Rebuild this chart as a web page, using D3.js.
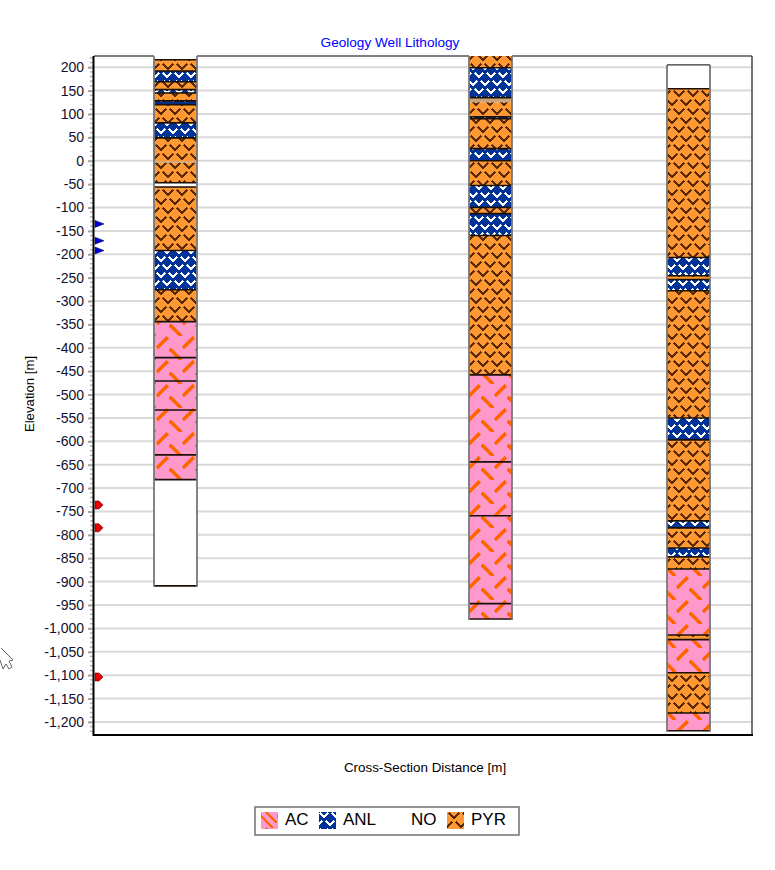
<!DOCTYPE html>
<html>
<head>
<meta charset="utf-8">
<script src="https://cdn.jsdelivr.net/npm/d3@7"></script>
<style>
  html, body { margin: 0; padding: 0; background: #fff; }
  text { font-family: "Liberation Sans", Arial, sans-serif; }
</style>
</head>
<body>
<div id="chart"></div>
<script>
// Data
const rockTypes = ['AC', 'ANL', 'NO', 'PYR']
const wellDistances = [815, 3965, 5945]

// elevation of each interval boundary, top to bottom, and the rock between them
const well1Tops = [224, 216, 192, 169, 152, 145, 128, 120, 81, 49, -2, -4, -47, -56, -192, -276, -344, -421, -471, -533, -629, -682, -909]
const well1Rocks = ['NO', 'PYR', 'ANL', 'PYR', 'ANL', 'PYR', 'ANL', 'PYR', 'ANL', 'PYR', 'GREY', 'PYR', 'NO', 'PYR', 'ANL', 'PYR', 'AC', 'AC', 'AC', 'AC', 'AC', 'NO']
const well2Tops = [224, 199, 135, 125, 94, 90, 26, 0, -53, -100, -113, -160, -458, -644, -759, -947, -980]
const well2Rocks = ['PYR', 'ANL', 'TAN', 'PYR', 'ANL', 'PYR', 'ANL', 'PYR', 'ANL', 'PYR', 'ANL', 'PYR', 'AC', 'AC', 'AC', 'AC']
const well3Tops = [205, 154, -207, -246, -254, -278, -550, -597, -770, -785, -828, -847, -873, -1014, -1024, -1095, -1181, -1219]
const well3Rocks = ['NO', 'PYR', 'ANL', 'PYR', 'ANL', 'PYR', 'ANL', 'PYR', 'ANL', 'PYR', 'ANL', 'PYR', 'AC', 'PYR', 'AC', 'PYR', 'AC']

const blueMarkers = [-135, -171, -192]
const redMarkers = [-736, -785, -1104]

// Dimensions
const dimensions = { width: 775, height: 870, left: 94, right: 752, top: 56, bottom: 735 }
const colWidth = 43

const svg = d3.select('#chart').append('svg')
  .attr('width', dimensions.width)
  .attr('height', dimensions.height)
  .style('display', 'block')

// Scales
const xScale = d3.scaleLinear().domain([0, 6580]).range([dimensions.left, dimensions.right])
const yScale = d3.scaleLinear().domain([224, -1228]).range([dimensions.top, dimensions.bottom])

// Patterns
const defs = svg.append('defs')

function addPattern(id, w, h, bg, color, strokeW, paths) {
  const p = defs.append('pattern')
    .attr('id', id)
    .attr('patternUnits', 'userSpaceOnUse')
    .attr('width', w)
    .attr('height', h)
  p.append('rect').attr('width', w).attr('height', h).attr('fill', bg)
  p.selectAll('path').data(paths).join('path')
    .attr('d', d => d)
    .attr('fill', 'none')
    .attr('stroke', color)
    .attr('stroke-width', strokeW)
    .attr('shape-rendering', 'crispEdges')
}

addPattern('pat-PYR', 14, 18, '#FF9933', '#5A2A05', 1.6, [
  'M2,1 L7,6 L12,1', 'M9,10 L14,15 L19,10', 'M-5,10 L0,15 L5,10'
])
addPattern('pat-ANL', 12, 16, '#003399', '#fff', 2, [
  'M1,1 L5,5 L9,1', 'M7,9 L11,13 L15,9', 'M-5,9 L-1,13 L3,9'
])
addPattern('pat-AC', 26, 24, '#FF99CC', '#FF6600', 3, [
  'M1,12 L12,1', 'M14,13 L25,24'
])
addPattern('pat-leg-AC', 16, 16, '#FF99CC', '#FF6600', 2.2, ['M0,4 L12,16', 'M5,0 L16,11'])

const rockFill = rock => ({
  AC: 'url(#pat-AC)', ANL: 'url(#pat-ANL)', PYR: 'url(#pat-PYR)',
  NO: '#fff', TAN: '#C8A67E', GREY: '#9a9a9a'
})[rock]

// Grid
const yTicks = d3.range(-1200, 201, 50)
svg.append('g').selectAll('line').data(yTicks).join('line')
  .attr('x1', dimensions.left)
  .attr('x2', dimensions.right)
  .attr('y1', d => yScale(d))
  .attr('y2', d => yScale(d))
  .attr('stroke', '#D9D9D9')
  .attr('stroke-width', 2)

// Wells
const wells = [
  { x: wellDistances[0], tops: well1Tops, rocks: well1Rocks },
  { x: wellDistances[1], tops: well2Tops, rocks: well2Rocks },
  { x: wellDistances[2], tops: well3Tops, rocks: well3Rocks }
]

wells.forEach(well => {
  const cx = xScale(well.x)
  const g = svg.append('g')
  g.selectAll('rect').data(well.rocks).join('rect')
    .attr('x', cx - colWidth / 2)
    .attr('width', colWidth)
    .attr('y', (d, i) => yScale(well.tops[i]))
    .attr('height', (d, i) => yScale(well.tops[i + 1]) - yScale(well.tops[i]))
    .attr('fill', d => rockFill(d))
  // interval boundaries, the thin grey and tan bands have no dark line under them
  const bounds = well.tops.slice(1).filter((d, i) =>
    !['GREY', 'TAN'].includes(well.rocks[i]) && well.rocks[i + 1] !== 'GREY')
  g.selectAll('line.bound').data(bounds).join('line')
    .attr('class', 'bound')
    .attr('x1', cx - colWidth / 2)
    .attr('x2', cx + colWidth / 2)
    .attr('y1', d => yScale(d))
    .attr('y2', d => yScale(d))
    .attr('stroke', '#1a1008')
    .attr('stroke-width', 1.6)
  // column sides
  const y0 = yScale(well.tops[0])
  const y1 = yScale(well.tops[well.tops.length - 1])
  g.selectAll('line.side').data([cx - colWidth / 2, cx + colWidth / 2]).join('line')
    .attr('class', 'side')
    .attr('x1', d => d)
    .attr('x2', d => d)
    .attr('y1', y0)
    .attr('y2', y1 + 1)
    .attr('stroke', '#777')
    .attr('stroke-width', 1.8)
  if (well.tops[0] < 224) {
    g.append('line')
      .attr('x1', cx - colWidth / 2).attr('x2', cx + colWidth / 2)
      .attr('y1', y0).attr('y2', y0)
      .attr('stroke', '#333').attr('stroke-width', 1.2)
  }
})

// Frame: top and right are grey/dark, left and bottom heavy black
const frameTop = wells.map(w => xScale(w.x))
svg.append('g').selectAll('line').data([
  [dimensions.left, frameTop[0] - colWidth / 2],
  [frameTop[0] + colWidth / 2, frameTop[1] - colWidth / 2],
  [frameTop[1] + colWidth / 2, dimensions.right]
]).join('line')
  .attr('x1', d => d[0]).attr('x2', d => d[1])
  .attr('y1', dimensions.top).attr('y2', dimensions.top)
  .attr('stroke', '#808080').attr('stroke-width', 2)

svg.append('line')
  .attr('x1', dimensions.right).attr('x2', dimensions.right)
  .attr('y1', dimensions.top).attr('y2', dimensions.bottom)
  .attr('stroke', '#444').attr('stroke-width', 1.5)
svg.append('line')
  .attr('x1', dimensions.left - 1).attr('x2', dimensions.right + 1)
  .attr('y1', dimensions.bottom).attr('y2', dimensions.bottom)
  .attr('stroke', '#000').attr('stroke-width', 2)

// Y axis
const fmt = d3.formatLocale({ decimal: '.', thousands: ',', grouping: [3], currency: ['', ''], minus: '-' }).format(',')
const yAxis = svg.append('g')
  .attr('transform', `translate(${dimensions.left - 1},0)`)
  .call(d3.axisLeft(yScale).tickValues(yTicks).tickSize(5).tickPadding(4).tickFormat(fmt))
yAxis.select('.domain').remove()
yAxis.selectAll('.tick line').attr('stroke', '#A0A0A0').attr('stroke-width', 2)
yAxis.selectAll('.tick text').attr('font-size', 14).attr('fill', '#101030')
  .style('font-family', '"Liberation Sans", Arial, sans-serif')

svg.append('g').selectAll('line')
  .data(d3.range(-1220, 221, 10))
  .join('line')
  .attr('x1', dimensions.left - 4).attr('x2', dimensions.left - 1)
  .attr('y1', d => yScale(d)).attr('y2', d => yScale(d))
  .attr('stroke', '#B5B5B5').attr('stroke-width', 1.5)

svg.append('line')
  .attr('x1', dimensions.left - 0.5).attr('x2', dimensions.left - 0.5)
  .attr('y1', dimensions.top).attr('y2', dimensions.bottom + 1)
  .attr('stroke', '#000').attr('stroke-width', 2)

// Markers on the left axis
svg.append('g').selectAll('path').data(blueMarkers).join('path')
  .attr('transform', d => `translate(${dimensions.left},${yScale(d)})`)
  .attr('d', 'M1,-3.5 L10,0 L1,3.5 Z')
  .attr('fill', '#0000D0')
  .attr('stroke', '#101060')
  .attr('stroke-width', 0.6)
svg.append('g').selectAll('path').data(redMarkers).join('path')
  .attr('transform', d => `translate(${dimensions.left},${yScale(d)})`)
  .attr('d', 'M1,-4 L5,-4 L9,0 L5,4 L1,4 Z')
  .attr('fill', '#E60000')
  .attr('stroke', '#600')
  .attr('stroke-width', 0.6)

// Titles
svg.append('text')
  .attr('x', 390).attr('y', 47)
  .attr('text-anchor', 'middle').attr('font-size', 13.6).attr('fill', '#0000FF')
  .text('Geology Well Lithology')
svg.append('text')
  .attr('transform', 'translate(34,394) rotate(-90)')
  .attr('text-anchor', 'middle').attr('font-size', 13.2).attr('fill', '#000')
  .text('Elevation [m]')
svg.append('text')
  .attr('x', 425).attr('y', 772)
  .attr('text-anchor', 'middle').attr('font-size', 13.4).attr('fill', '#000')
  .text('Cross-Section Distance [m]')

// Legend
const legend = svg.append('g')
legend.append('rect')
  .attr('x', 255).attr('y', 807).attr('width', 264).attr('height', 28)
  .attr('fill', '#fff').attr('stroke', '#707070').attr('stroke-width', 1.5)

const legendX = d3.scaleOrdinal().domain(rockTypes).range([261, 319, 387, 447])
const legendFill = r => r === 'AC' ? 'url(#pat-leg-AC)' : rockFill(r)
const items = legend.selectAll('g').data(rockTypes).join('g')
  .attr('transform', d => `translate(${legendX(d)},812)`)
items.filter(d => d !== 'NO').append('rect')
  .attr('width', 17).attr('height', 17)
  .attr('fill', legendFill)
items.append('text')
  .attr('x', 24).attr('y', 13)
  .attr('font-size', 17).attr('fill', '#000')
  .text(d => d)

// Stray mouse cursor captured in the screenshot
svg.append('path')
  .attr('d', 'M1,648 L13,660 L9,661 L12,667 L9,669 L6,664 L3,669 L0,660')
  .attr('fill', '#fff').attr('stroke', '#666').attr('stroke-width', 1)
</script>
</body>
</html>
